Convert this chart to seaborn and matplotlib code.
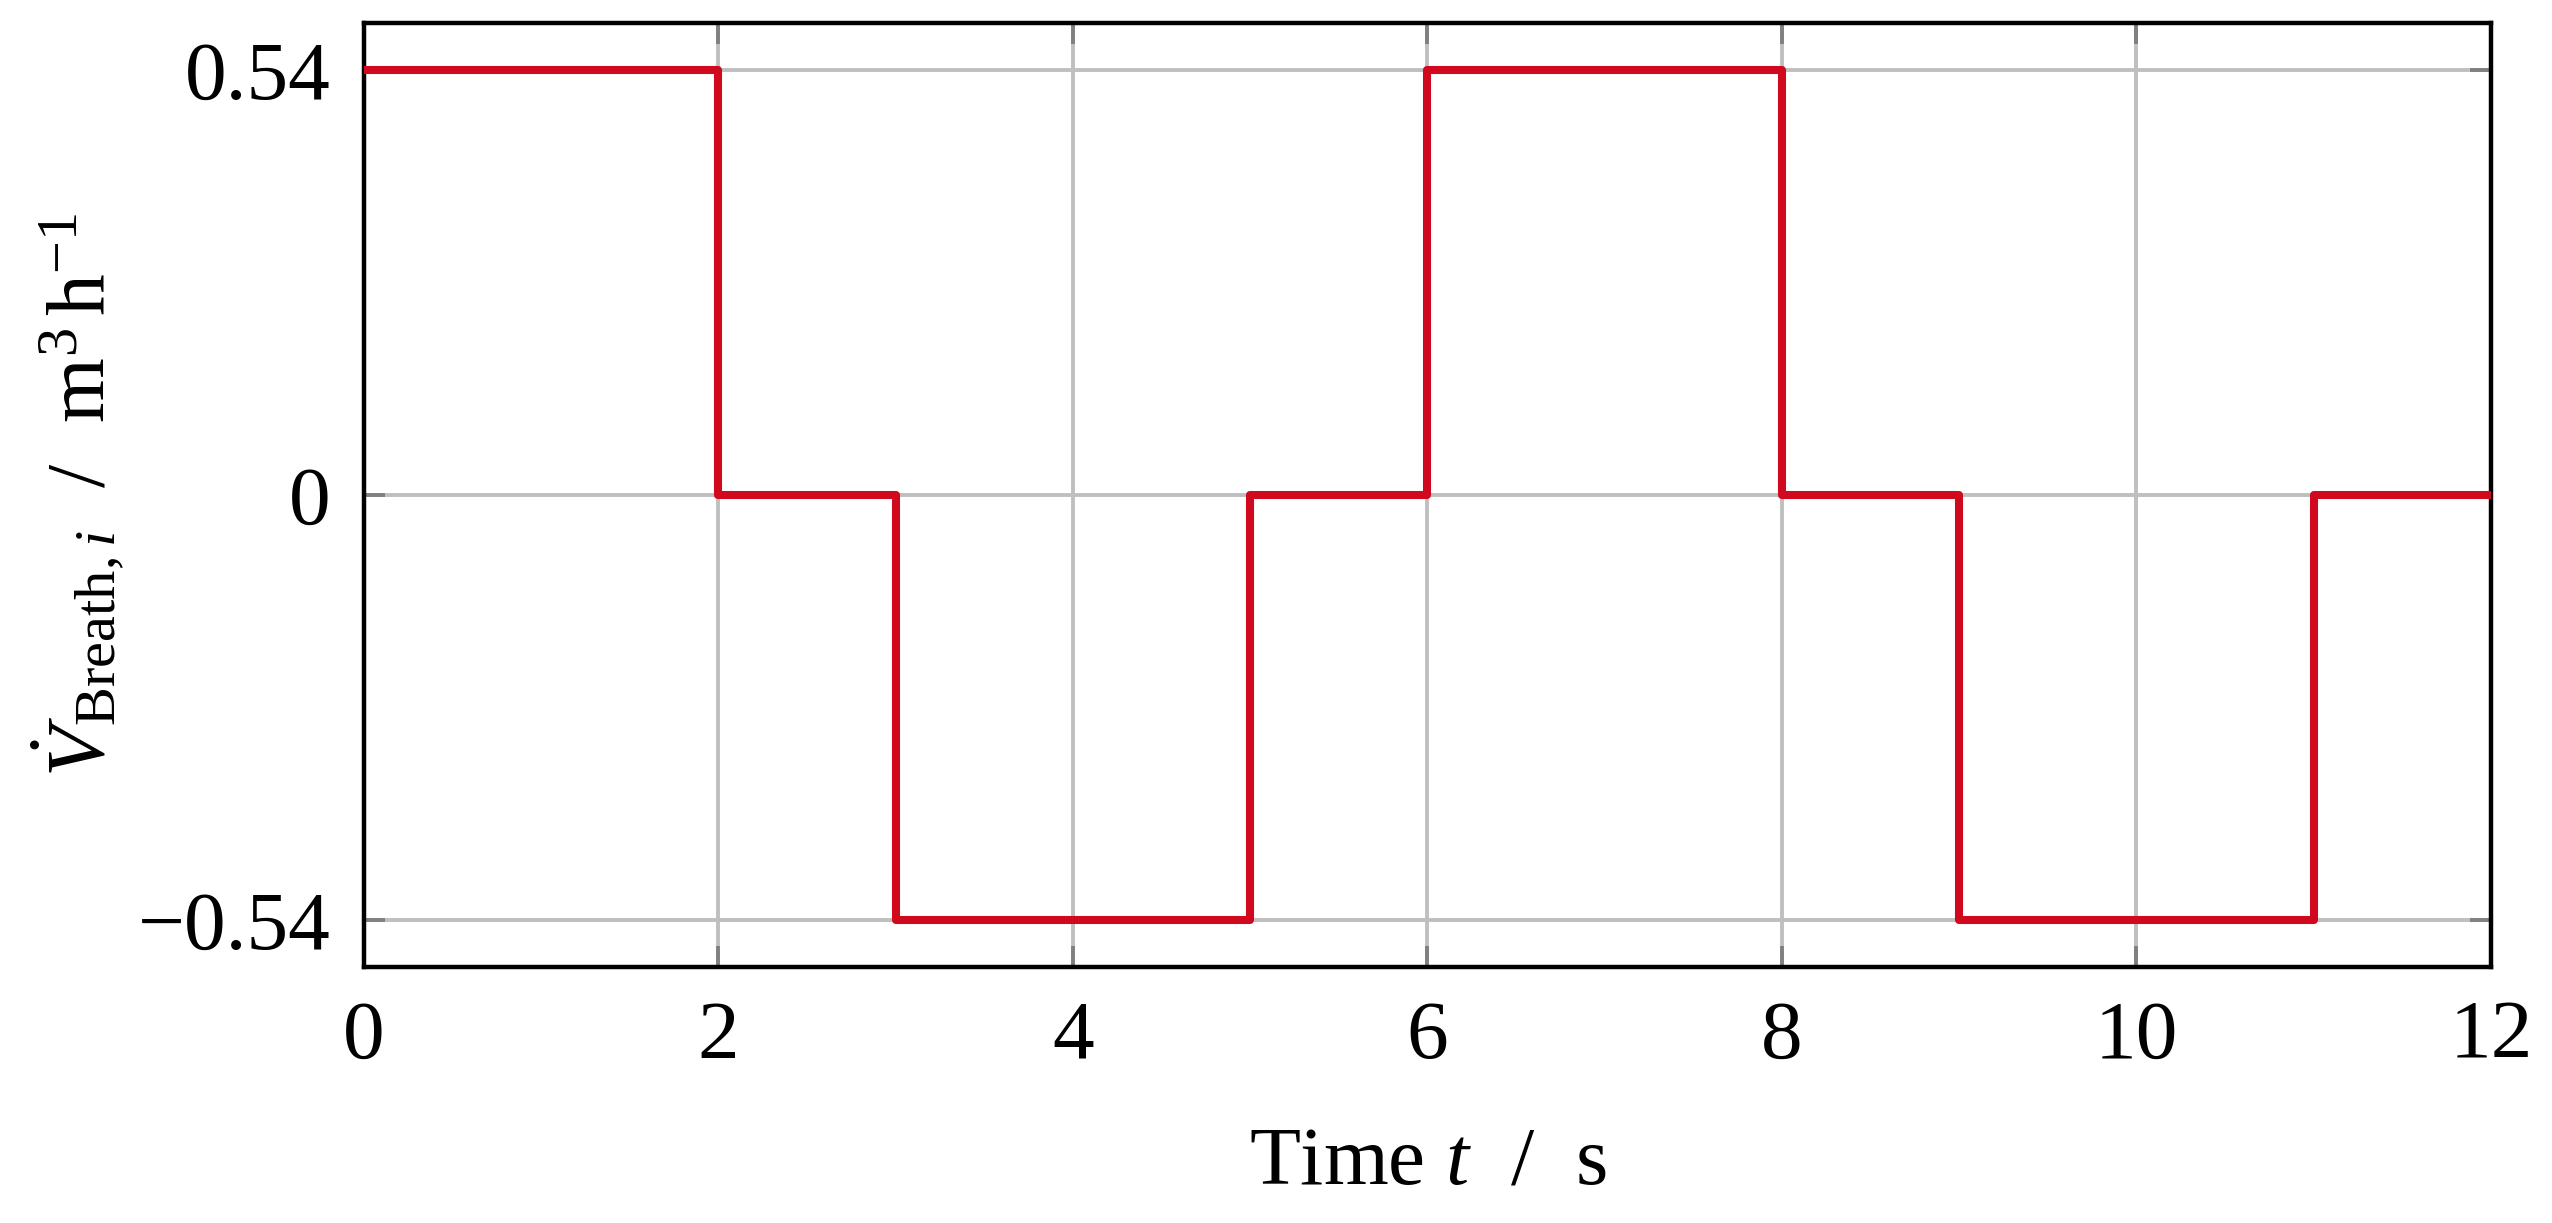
import numpy as np
import pandas as pd
import matplotlib
matplotlib.use("Agg")
import matplotlib.pyplot as plt
import seaborn as sns

# Data
time_s = [0, 2, 3, 5, 6, 8, 9, 11, 12]
flow = [0.54, 0.0, -0.54, 0.0, 0.54, 0.0, -0.54, 0.0, 0.0]
x_ticks = [0, 2, 4, 6, 8, 10, 12]
y_ticks = [-0.54, 0, 0.54]
y_ticklabels = ["\u22120.54", "0", "0.54"]

sns.set_theme(style="white")
plt.rcParams["font.family"] = ["Liberation Serif", "DejaVu Serif"]
plt.rcParams["mathtext.fontset"] = "custom"
plt.rcParams["mathtext.rm"] = "Liberation Serif"
plt.rcParams["mathtext.it"] = "Liberation Serif:italic"
plt.rcParams["mathtext.bf"] = "Liberation Serif:bold"
plt.rcParams["text.color"] = "black"
plt.rcParams["axes.labelcolor"] = "black"
plt.rcParams["xtick.labelcolor"] = "black"
plt.rcParams["ytick.labelcolor"] = "black"

df = pd.DataFrame({"t": time_s, "v": flow})

fig = plt.figure(figsize=(12.76, 6.115), dpi=200)
ax = fig.add_axes([0.1426, 0.2093, 0.9761 - 0.1426, 0.9812 - 0.2093])

sns.lineplot(data=df, x="t", y="v", ax=ax, color="#d0091e", linewidth=2.9,
             drawstyle="steps-post", zorder=3)

ax.set_xlim(0, 12)
ax.set_ylim(-0.6, 0.6)
ax.set_xticks(x_ticks)
ax.set_xticklabels([str(v) for v in x_ticks])
ax.set_yticks(y_ticks)
ax.set_yticklabels(y_ticklabels)

ax.grid(True, color="#bfbfbf", linewidth=1.4, zorder=1)
ax.set_axisbelow(True)

ax.tick_params(axis="both", which="both", direction="in", length=7.5, width=1.4,
               color="#808080", labelsize=30, labelcolor="black", top=True, right=True,
               bottom=True, left=True, pad=12)
for s in ax.spines.values():
    s.set_color("black")
    s.set_linewidth(1.6)
    s.set_visible(True)

ax.set_xlabel("Time $t$  /  s", fontsize=30, labelpad=18, color="black")
ax.set_ylabel(r"$\dot{V}_{\mathrm{Breath},i}$  /  m$^3\,$h$^{-1}$", fontsize=30,
              labelpad=4, color="black")

fig.savefig("out.png", dpi=200, facecolor="white")
